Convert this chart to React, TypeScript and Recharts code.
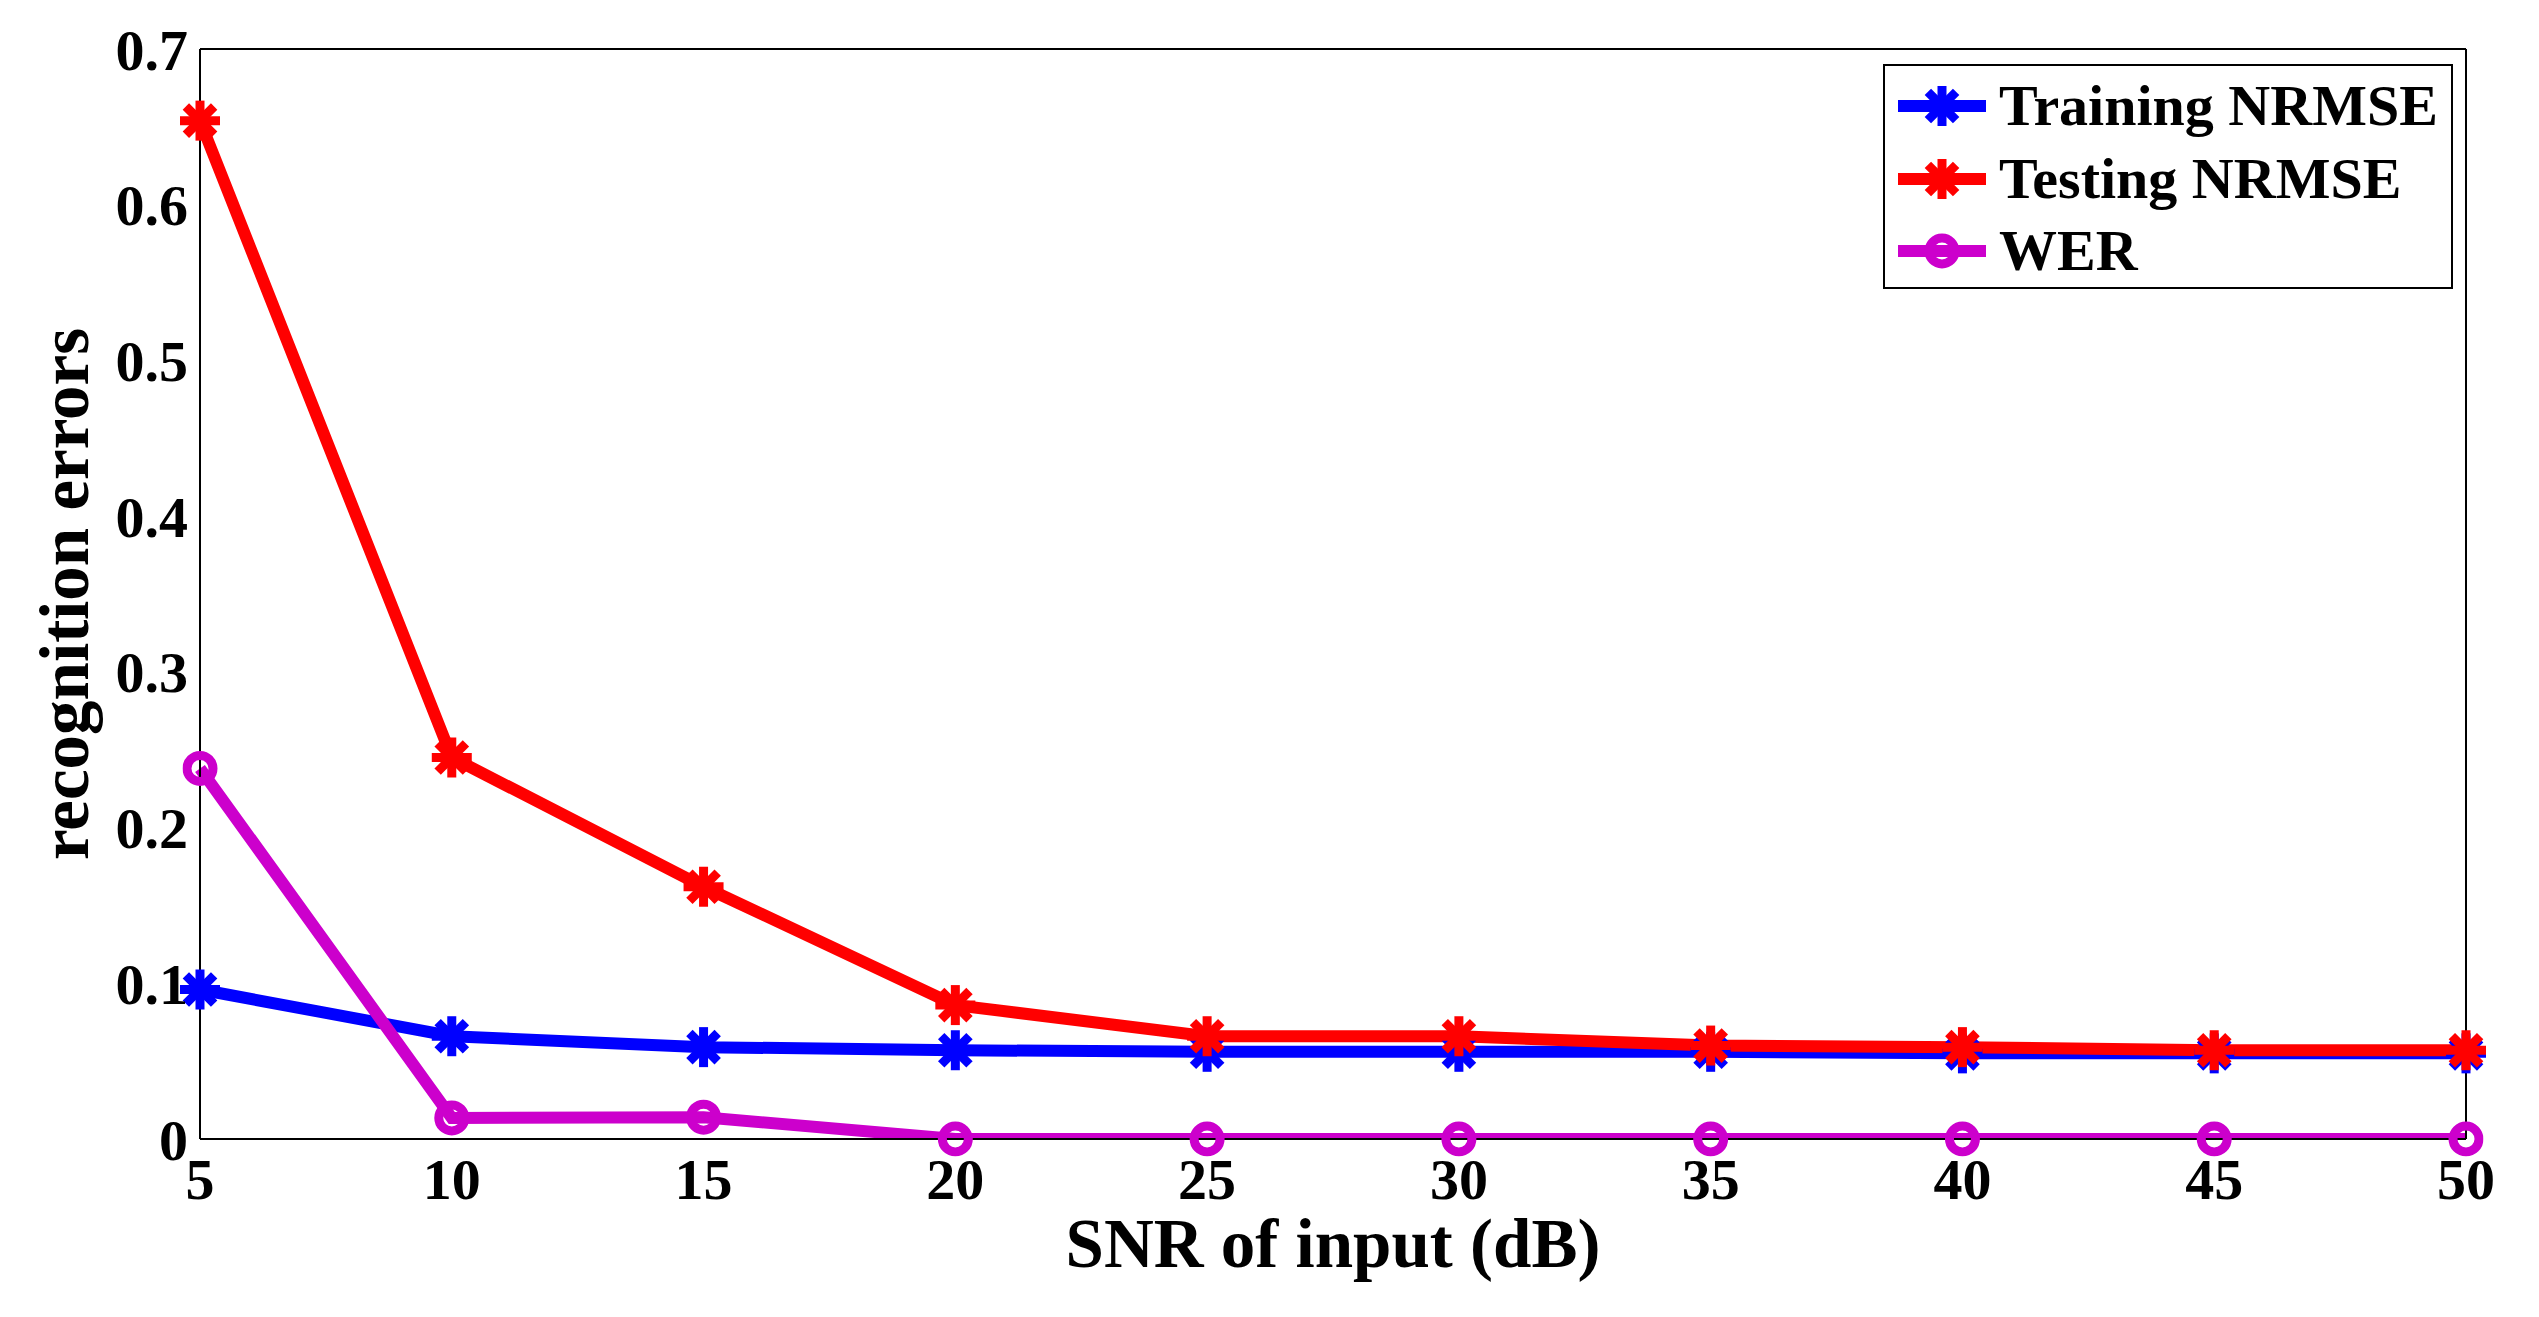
import { LineChart, Line, XAxis, YAxis } from 'recharts';

// SNR of input (dB)
const snr = [5, 10, 15, 20, 25, 30, 35, 40, 45, 50];
const trainingNrmse = [0.096, 0.066, 0.059, 0.057, 0.056, 0.056, 0.056, 0.055, 0.055, 0.055];
const testingNrmse = [0.654, 0.245, 0.162, 0.086, 0.066, 0.066, 0.06, 0.059, 0.057, 0.057];
const wer = [0.238, 0.0135, 0.014, 0, 0, 0, 0, 0, 0, 0];

const xTicks = [5, 10, 15, 20, 25, 30, 35, 40, 45, 50];
const yTicks = [0, 0.1, 0.2, 0.3, 0.4, 0.5, 0.6, 0.7];

const BLUE = '#0000ff';
const RED = '#ff0000';
const MAGENTA = '#cc00cc';
const FONT = "'Liberation Serif', 'Times New Roman', serif";

const data = snr.map((x, i) => ({
  snr: x,
  training: trainingNrmse[i],
  testing: testingNrmse[i],
  wer: wer[i],
}));

function Star({ cx, cy, color, size = 20 }: { cx: number; cy: number; color: string; size?: number }) {
  const d = size * Math.SQRT1_2;
  return (
    <g stroke={color} strokeWidth={9}>
      <line x1={cx - size} y1={cy} x2={cx + size} y2={cy} />
      <line x1={cx} y1={cy - size} x2={cx} y2={cy + size} />
      <line x1={cx - d} y1={cy - d} x2={cx + d} y2={cy + d} />
      <line x1={cx - d} y1={cy + d} x2={cx + d} y2={cy - d} />
    </g>
  );
}

const tickStyle = { fill: '#000', fontSize: 58, fontFamily: FONT, fontWeight: 'bold' };
const frame = { stroke: '#000', strokeWidth: 2 };

const yTitle = ({ viewBox }: any) => {
  const x = viewBox.x + 65;
  const y = viewBox.y + viewBox.height / 2;
  return (
    <text
      x={x}
      y={y}
      transform={`rotate(-90 ${x} ${y})`}
      textAnchor="middle"
      dominantBaseline="central"
      fill="#000"
      fontSize={69}
      fontFamily={FONT}
      fontWeight="bold"
    >
      recognition errors
    </text>
  );
};

const legendItems = [
  { name: 'Training NRMSE', color: BLUE, marker: 'star' },
  { name: 'Testing NRMSE', color: RED, marker: 'star' },
  { name: 'WER', color: MAGENTA, marker: 'circle' },
];

export default function App() {
  return (
    <div style={{ position: 'absolute', left: 0, top: 0, width: 2539, height: 1317, background: '#fff' }}>
      <LineChart width={2539} height={1317} data={data} margin={{ top: 49, right: 73, bottom: 0, left: 0 }}>
        <XAxis
          dataKey="snr"
          type="number"
          domain={[5, 50]}
          ticks={xTicks}
          interval={0}
          height={178}
          tickLine={false}
          tickSize={0}
          tickMargin={19}
          axisLine={frame}
          tick={tickStyle}
          label={{
            value: 'SNR of input (dB)',
            position: 'insideBottom',
            offset: 50,
            fill: '#000',
            fontSize: 69,
            fontFamily: FONT,
            fontWeight: 'bold',
          }}
        />
        <XAxis xAxisId="top" orientation="top" type="number" domain={[5, 50]} ticks={xTicks} interval={0}
          allowDataOverflow mirror tick={false} tickSize={22} tickLine={frame} axisLine={frame} />
        <XAxis xAxisId="bottomIn" orientation="bottom" type="number" domain={[5, 50]} ticks={xTicks} interval={0}
          allowDataOverflow mirror tick={false} tickSize={22} tickLine={frame} axisLine={false} />
        <YAxis
          type="number"
          domain={[0, 0.7]}
          ticks={yTicks}
          interval={0}
          width={200}
          tickLine={false}
          tickSize={0}
          tickMargin={12}
          axisLine={frame}
          tick={tickStyle}
          label={yTitle}
        />
        <YAxis yAxisId="leftIn" orientation="left" type="number" domain={[0, 0.7]} ticks={yTicks} interval={0}
          allowDataOverflow mirror tick={false} tickSize={22} tickLine={frame} axisLine={false} />
        <YAxis yAxisId="right" orientation="right" type="number" domain={[0, 0.7]} ticks={yTicks} interval={0}
          allowDataOverflow mirror tick={false} tickSize={22} tickLine={frame} axisLine={frame} />
        <YAxis yAxisId="wer" hide type="number" domain={[0, 0.7]} allowDataOverflow />

        <Line
          dataKey="training"
          stroke={BLUE}
          strokeWidth={12}
          isAnimationActive={false}
          dot={(p: any) => <Star key={`tr-${p.index}`} cx={p.cx} cy={p.cy} color={BLUE} />}
          activeDot={false}
        />
        <Line
          dataKey="testing"
          stroke={RED}
          strokeWidth={12}
          isAnimationActive={false}
          dot={(p: any) => <Star key={`te-${p.index}`} cx={p.cx} cy={p.cy} color={RED} />}
          activeDot={false}
        />
        <Line
          dataKey="wer"
          yAxisId="wer"
          stroke={MAGENTA}
          strokeWidth={12}
          isAnimationActive={false}
          dot={{ clipDot: false, r: 13, stroke: MAGENTA, strokeWidth: 9, fill: 'none' }}
          activeDot={false}
        />
      </LineChart>

      <div
        style={{
          position: 'absolute',
          left: 1883,
          top: 64,
          width: 570,
          height: 225,
          border: '2px solid #000',
          boxSizing: 'border-box',
          background: '#fff',
        }}
      >
        {legendItems.map((item, i) => (
          <div
            key={item.name}
            style={{ position: 'absolute', left: 0, top: 4 + i * 72.5, height: 72, display: 'flex', alignItems: 'center' }}
          >
            <svg width={114} height={72} style={{ display: 'block', flex: 'none' }}>
              <line x1={13} y1={36} x2={101} y2={36} stroke={item.color} strokeWidth={12} />
              {item.marker === 'star' ? (
                <Star cx={57} cy={36} color={item.color} />
              ) : (
                <circle cx={57} cy={36} r={13} stroke={item.color} strokeWidth={9} fill="none" />
              )}
            </svg>
            <span
              style={{
                fontFamily: FONT,
                fontWeight: 'bold',
                fontSize: 58,
                lineHeight: '72px',
                color: '#000',
                whiteSpace: 'nowrap',
              }}
            >
              {item.name}
            </span>
          </div>
        ))}
      </div>
    </div>
  );
}
